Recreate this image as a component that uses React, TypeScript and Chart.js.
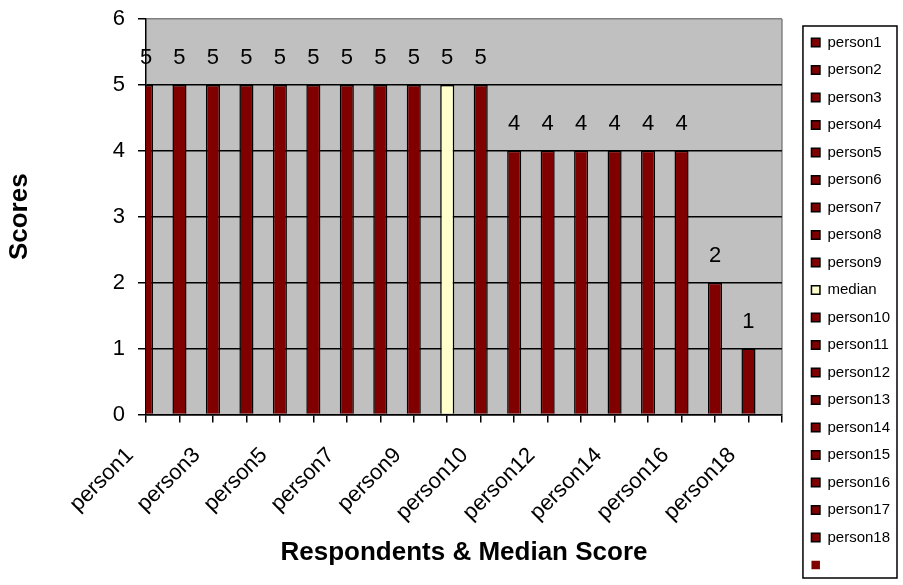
import React, { useEffect, useRef } from 'react';
import { Chart, registerables } from 'chart.js';

Chart.register(...registerables);

const categories = [
  'person1', 'person2', 'person3', 'person4', 'person5', 'person6', 'person7', 'person8', 'person9',
  'median',
  'person10', 'person11', 'person12', 'person13', 'person14', 'person15', 'person16', 'person17', 'person18',
];
const scores = [5, 5, 5, 5, 5, 5, 5, 5, 5, 5, 5, 4, 4, 4, 4, 4, 4, 2, 1];
const shownTickLabels = [
  'person1', 'person3', 'person5', 'person7', 'person9',
  'person10', 'person12', 'person14', 'person16', 'person18',
];
const yTickValues = [0, 1, 2, 3, 4, 5, 6];
const legendLabels = [...categories, ''];

const FONT = "'Liberation Sans', Arial, sans-serif";
const BAR = '#800000';
const MEDIAN = '#FFFFCC';

const axisLabels = [...categories, ''];
const barColors = categories.map((c) => (c === 'median' ? MEDIAN : BAR));

const plotBackground = {
  id: 'plotBackground',
  beforeDraw(chart: any) {
    const { ctx, chartArea: a } = chart;
    ctx.save();
    ctx.fillStyle = '#C0C0C0';
    ctx.fillRect(a.left, a.top, a.right - a.left, a.bottom - a.top);
    ctx.strokeStyle = '#808080';
    ctx.lineWidth = 1.5;
    ctx.beginPath();
    ctx.moveTo(a.right, a.top);
    ctx.lineTo(a.right, a.bottom);
    ctx.stroke();
    ctx.restore();
  },
};

const dataLabels = {
  id: 'dataLabels',
  afterDatasetsDraw(chart: any) {
    const { ctx } = chart;
    const meta = chart.getDatasetMeta(0);
    ctx.save();
    ctx.font = `22px ${FONT}`;
    ctx.fillStyle = '#000';
    ctx.textAlign = 'center';
    ctx.textBaseline = 'middle';
    meta.data.forEach((el: any, i: number) => {
      const v = scores[i];
      if (v === null || v === undefined) return;
      ctx.fillText(String(v), el.x, el.y - 27);
    });
    ctx.restore();
  },
};

const legendBorder = {
  id: 'legendBorder',
  afterDraw(chart: any) {
    const lg = chart.legend;
    if (!lg || !lg.columnSizes || !lg.columnSizes.length) return;
    const { ctx } = chart;
    const y0 = lg.bottom - lg.columnSizes[0].height;
    ctx.save();
    ctx.strokeStyle = '#000';
    ctx.lineWidth = 1.5;
    ctx.strokeRect(lg.left + 4, y0 - 9, lg.right - 3 - (lg.left + 4), lg.bottom - 7 - (y0 - 9));
    ctx.restore();
  },
};

export default function App() {
  const canvasRef = useRef<HTMLCanvasElement | null>(null);

  useEffect(() => {
    if (!canvasRef.current) return;
    const chart = new Chart(canvasRef.current, {
      type: 'bar',
      data: {
        labels: axisLabels,
        datasets: [
          {
            label: 'Scores',
            data: [...scores, null] as any,
            backgroundColor: barColors,
            borderColor: '#000',
            borderWidth: 1.5,
            barPercentage: 0.42,
            categoryPercentage: 1,
            clip: 0 as any,
          },
        ],
      },
      options: {
        animation: false,
        responsive: true,
        maintainAspectRatio: false,
        layout: { padding: { top: 19, right: 3, bottom: 0, left: 0 } },
        plugins: {
          tooltip: { enabled: false },
          legend: {
            position: 'right',
            align: 'end',
            onClick: () => {},
            labels: {
              boxWidth: 8.5,
              boxHeight: 8.5,
              padding: 12.5,
              color: '#000',
              font: { family: FONT, size: 15 },
              generateLabels: () =>
                legendLabels.map((t, i) => ({
                  text: t,
                  fillStyle: i < categories.length ? barColors[i] : BAR,
                  strokeStyle: i < categories.length ? '#000' : 'rgba(0,0,0,0)',
                  lineWidth: i < categories.length ? 1.5 : 0,
                  hidden: false,
                  index: i,
                  datasetIndex: 0,
                  fontColor: '#000',
                })) as any,
            },
          },
        },
        scales: {
          x: {
            offset: false,
            grid: {
              display: true,
              offset: false,
              drawOnChartArea: false,
              drawTicks: true,
              tickLength: 8,
              color: '#000',
              lineWidth: 1.5,
            },
            border: { color: '#000', width: 1.5 },
            ticks: {
              autoSkip: false,
              minRotation: 45,
              maxRotation: 45,
              padding: 20,
              labelOffset: -16,
              color: '#000',
              font: { family: FONT, size: 22 },
              callback: (_v: any, index: number) => {
                const l = axisLabels[index];
                return shownTickLabels.includes(l) ? l : '';
              },
            },
            title: {
              display: true,
              text: 'Respondents & Median Score',
              color: '#000',
              font: { family: FONT, size: 26, weight: 'bold' },
              padding: { top: 4, bottom: 16.4 },
            },
            afterFit: (s: any) => {
              s.height = 170.5;
            },
          } as any,
          y: {
            min: yTickValues[0],
            max: yTickValues[yTickValues.length - 1],
            ticks: {
              stepSize: 1,
              padding: 13,
              color: '#000',
              font: { family: FONT, size: 22 },
            },
            grid: {
              color: (c: any) => (c.tick && c.tick.value === yTickValues[yTickValues.length - 1] ? '#808080' : '#000'),
              tickColor: '#000',
              tickLength: 8,
              lineWidth: 1.5,
            },
            border: { color: '#000', width: 1.5 },
            title: {
              display: true,
              text: 'Scores',
              color: '#000',
              font: { family: FONT, size: 26, weight: 'bold' },
              padding: { top: 4.4, bottom: 10 },
            },
            afterFit: (s: any) => {
              s.width = 146;
              s.paddingTop = 0;
              s.paddingBottom = 0;
            },
          } as any,
          yPad: {
            type: 'linear',
            position: 'right',
            display: true,
            grid: { display: false },
            ticks: { display: false },
            border: { display: false },
            afterFit: (s: any) => {
              s.width = 17;
              s.paddingTop = 0;
              s.paddingBottom = 0;
            },
          } as any,
        },
      },
      plugins: [plotBackground, dataLabels, legendBorder],
    });
    return () => chart.destroy();
  }, []);

  return (
    <div style={{ position: 'fixed', left: 0, top: 0, width: 903, height: 585, background: '#fff' }}>
      <canvas ref={canvasRef} />
    </div>
  );
}
